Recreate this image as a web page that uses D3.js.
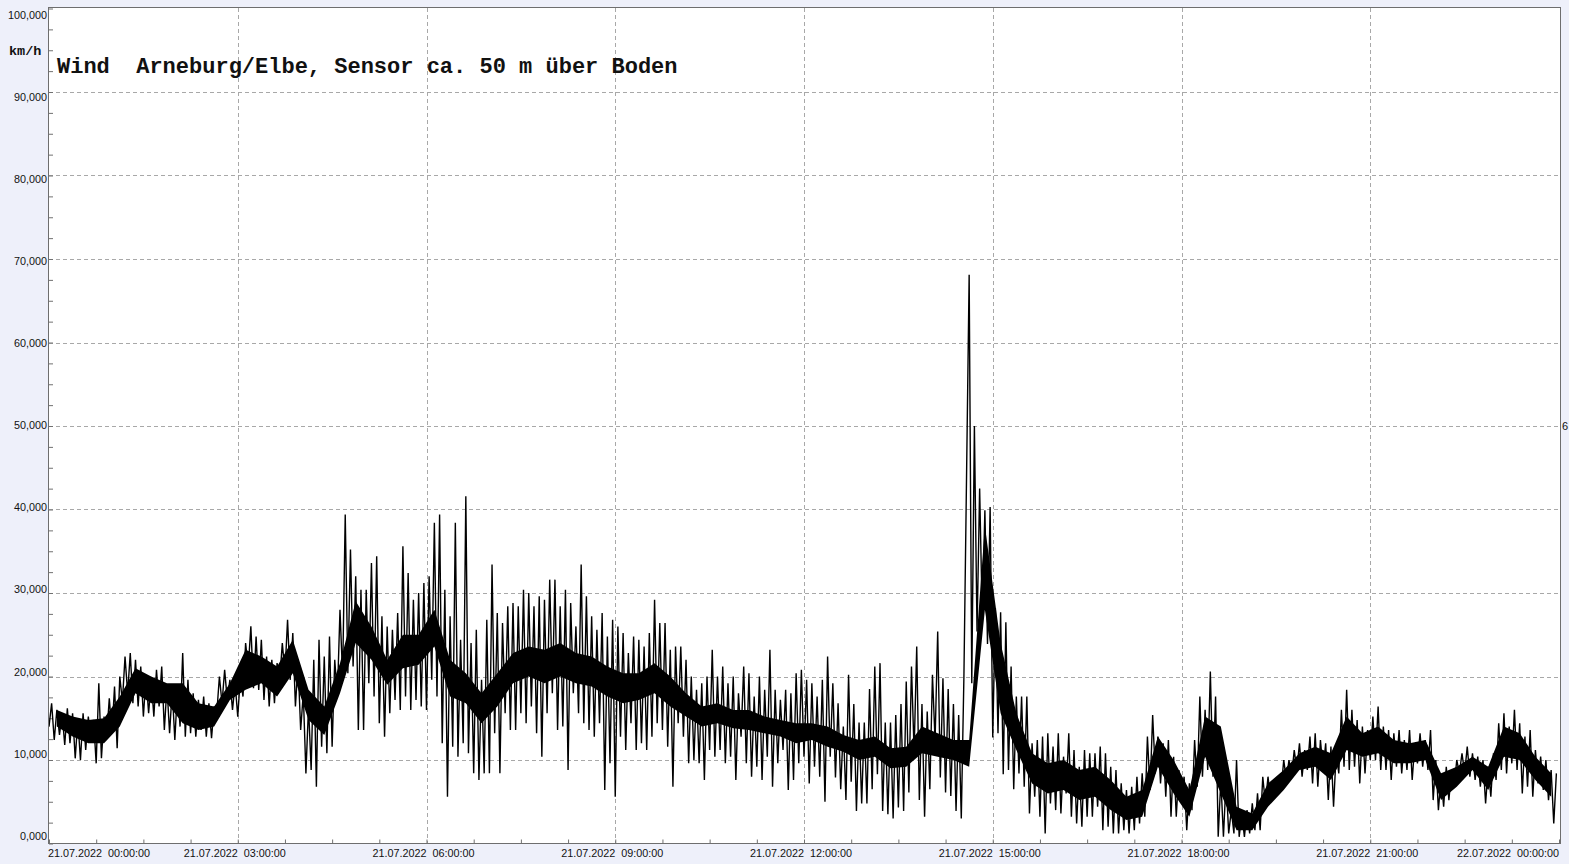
<!DOCTYPE html>
<html>
<head>
<meta charset="utf-8">
<script src="https://cdn.jsdelivr.net/npm/d3@7/dist/d3.min.js"></script>
<style>
  html, body { margin: 0; padding: 0; background: #eef0fa; }
  svg { display: block; }
</style>
</head>
<body>
<svg id="chart" width="1569" height="864"></svg>
<script>
// ---------------- DATA (km/h, 21.07.2022 00:00 - 24:00) ----------------
// 5-minute bins, one row = one hour; windHi = bin maximum, windLo = bin minimum
const windHi = [
  16.8, 16.0, 15.6, 16.2, 15.6, 14.8, 15.6, 15.2, 14.8, 19.2, 15.2, 17.4,
  18.8, 20.0, 22.4, 22.8, 22.0, 21.2, 20.0, 19.6, 20.8, 21.2, 18.8, 18.4,
  18.4, 22.8, 19.6, 18.0, 17.2, 17.6, 16.8, 16.4, 20.0, 20.8, 19.6, 19.2,
  20.0, 24.0, 26.0, 24.8, 24.4, 22.4, 22.0, 21.6, 24.0, 26.8, 25.2, 21.6,
  18.0, 16.4, 22.0, 24.4, 22.4, 24.8, 22.0, 28.0, 39.4, 35.2, 32.0, 30.4,
  30.4, 33.6, 34.4, 27.2, 26.0, 25.6, 27.6, 35.6, 32.4, 29.2, 30.0, 31.2,
  32.0, 38.4, 39.4, 30.4, 27.2, 38.4, 24.4, 41.6, 24.0, 25.6, 19.6, 26.8,
  33.4, 27.6, 26.4, 28.4, 28.8, 28.4, 30.4, 30.0, 28.4, 29.6, 29.2, 31.6,
  31.6, 28.4, 30.4, 28.8, 26.0, 33.4, 29.6, 27.2, 25.6, 27.6, 24.8, 26.8,
  26.0, 25.2, 22.8, 24.8, 24.4, 23.6, 25.2, 29.2, 26.4, 26.4, 23.2, 23.6,
  23.6, 22.0, 20.0, 18.4, 19.2, 20.0, 23.2, 20.0, 21.2, 19.2, 20.0, 18.0,
  21.2, 20.4, 17.6, 20.0, 18.4, 23.2, 18.4, 17.2, 18.4, 18.0, 20.4, 20.8,
  19.6, 19.2, 17.6, 19.6, 22.4, 19.2, 16.8, 14.0, 20.2, 16.7, 14.5, 14.5,
  18.5, 21.2, 21.6, 14.5, 14.5, 15.4, 16.7, 19.4, 21.2, 23.6, 16.7, 15.8,
  20.2, 25.4, 19.8, 18.5, 16.7, 15.4, 20.0, 68.1, 50.0, 42.5, 39.9, 40.3,
  28.2, 27.7, 26.5, 21.2, 17.6, 17.6, 17.6, 12.0, 12.4, 12.8, 13.2, 11.6,
  13.2, 10.4, 13.2, 11.2,  9.2, 11.2, 10.8, 10.8, 11.6, 10.8,  9.2,  8.8,
   7.2,  6.4,  6.8,  8.0,  8.4, 12.8, 15.4, 12.8, 12.0, 12.4, 10.4,  8.8,
   8.0,  7.2, 12.4, 17.6, 16.0, 20.6, 17.6,  7.6,  7.6,  4.0, 10.0,  3.6,
   4.0,  4.8,  6.0,  8.0,  8.0,  7.6,  8.0, 10.0, 10.0, 11.2, 12.0, 11.2,
  12.8, 13.2, 12.4, 12.0, 11.6, 10.8, 16.0, 18.4, 16.0, 14.8, 14.0, 13.6,
  15.2, 16.4, 14.0, 13.6, 13.2, 13.6, 12.4, 13.6, 12.0, 13.2, 12.4, 13.6,
  10.0,  8.0,  9.2,  8.8, 10.0, 10.8, 11.6, 10.8, 10.4, 10.0,  9.2, 10.8,
  14.4, 15.6, 14.0, 16.0, 14.4, 12.8, 13.6, 11.2, 10.4, 10.0,  8.8,  8.4
];
const windLo = [
  14.0, 12.4, 13.0, 11.8, 12.0, 10.2, 10.0, 11.2, 12.2,  9.6, 10.2, 12.8,
  13.2, 11.4, 17.0, 18.0, 16.8, 16.4, 15.2, 15.6, 15.2, 16.4, 13.6, 13.2,
  12.4, 14.0, 12.8, 13.2, 12.8, 13.6, 12.8, 12.6, 15.6, 16.8, 17.2, 16.0,
  15.2, 17.6, 21.0, 18.6, 18.4, 17.2, 16.4, 16.8, 19.6, 20.4, 19.6, 16.4,
  13.6,  8.4,  8.8,  6.8, 11.6, 10.8, 11.6, 17.6, 20.0, 20.4, 21.2, 13.6,
  13.6, 19.2, 17.6, 14.4, 12.8, 15.6, 17.2, 16.0, 17.6, 16.0, 17.2, 16.4,
  16.0, 19.6, 17.6, 12.0,  5.6, 11.6, 10.4, 12.0, 10.8,  8.4,  7.6,  8.4,
   8.4, 13.2,  8.4, 15.6, 13.6, 13.6, 15.6, 14.4, 16.4, 13.2, 10.4, 15.6,
  18.0, 13.6, 14.0,  8.8, 18.0, 15.6, 14.4, 13.6, 12.8, 14.4,  6.4,  9.6,
   5.6, 12.8, 11.2, 14.4, 11.2, 12.0, 11.2, 12.8, 14.4, 13.6, 11.6,  6.8,
  14.4, 12.8,  9.6, 10.0,  9.6,  7.6, 11.2, 10.4, 11.2,  9.6, 10.4,  7.6,
  12.8,  9.6,  8.0,  9.2,  7.6, 10.4,  6.8,  9.6, 11.2,  6.4,  7.6,  9.6,
  10.4,  7.2,  9.2,  8.0,  5.0, 10.4,  7.9,  6.5,  5.2,  7.4,  3.9,  4.8,
   4.8,  6.5,  8.3,  3.9,  3.5,  3.0,  4.3,  3.9,  6.1, 11.0,  5.2,  3.2,
   6.5, 12.3,  7.9,  6.1,  5.7,  3.9,  3.0, 43.9, 19.2, 25.4, 27.1, 23.9,
  12.7, 13.2,  8.3,  8.8,  6.5,  8.4,  6.8,  3.6,  5.6,  3.2,  1.2,  4.8,
   4.0,  3.6,  6.0,  3.2,  2.4,  2.0,  3.2,  3.2,  4.4,  1.6,  2.0,  1.2,
   1.2,  1.6,  1.2,  1.6,  2.4,  3.2,  6.4,  8.4,  7.2,  5.6,  3.2,  3.2,
   5.6,  1.6,  4.0,  6.8,  8.0,  8.8,  8.0,  0.8,  0.8,  1.2,  1.2,  0.8,
   0.8,  1.2,  1.6,  1.6,  4.8,  5.2,  5.6,  6.4,  7.6,  8.0,  8.8,  8.0,
   8.8,  7.2,  6.8,  8.8,  5.2,  4.4,  8.4,  9.2,  8.8,  9.2,  7.2,  8.4,
  10.0, 10.0,  8.8,  8.8,  7.6,  9.2,  8.4,  8.8,  7.6,  9.6,  9.2,  8.8,
   5.2,  4.0,  4.4,  5.2,  6.8,  8.4,  8.4,  8.0,  7.6,  6.8,  4.8,  5.6,
   7.6,  8.8,  8.4,  9.6,  8.8,  6.0,  6.8,  5.6,  7.2,  6.4,  5.2,  2.4
];
const binMinutes = 5;

// 15-minute bins: the dense (solid black) core of the trace, one row = one hour
const coreLo = [
  14.0, 12.8, 12.0, 12.0,   14.0, 18.0, 16.8, 16.8,   14.4, 13.6, 14.0, 17.2,
  18.4, 19.2, 17.6, 20.4,   14.8, 13.0, 18.0, 24.0,   22.0, 19.0, 21.0, 21.4,
  23.6, 17.6, 16.8, 14.4,   16.4, 19.2, 20.0, 19.2,   20.0, 19.2, 18.8, 17.6,
  16.8, 17.2, 18.0, 16.4,   15.2, 14.0, 14.4, 13.8,   13.6, 13.2, 12.8, 12.0,
  12.4, 11.6, 11.0, 10.0,   10.4,  9.0,  9.2, 10.8,   10.4, 10.0,  9.2, 28.0,
  15.6, 11.2,  7.2,  6.0,    6.4,  5.2,  5.6,  4.0,    2.8,  3.2,  9.2,  6.0,
   3.2, 10.4,  6.0,  1.6,    1.6,  4.4,  6.4,  8.8,    9.2,  7.6, 11.2, 10.4,
  10.8,  9.6,  9.6, 10.0,    5.2,  6.8,  8.8,  6.4,   10.4, 10.0,  7.6,  5.6
];
const coreHi = [
  16.0, 15.2, 14.8, 15.0,   17.6, 21.0, 20.0, 19.2,   19.2, 16.8, 16.4, 19.2,
  23.2, 22.4, 21.2, 24.4,   18.4, 16.4, 21.6, 29.0,   26.0, 22.0, 25.0, 25.0,
  28.0, 22.0, 20.4, 18.0,   20.4, 22.8, 23.6, 23.2,   24.0, 22.8, 22.4, 21.2,
  20.4, 20.4, 21.6, 20.0,   18.0, 16.4, 16.8, 16.0,   16.0, 15.2, 14.8, 14.4,
  14.4, 14.0, 13.0, 12.4,   12.8, 11.4, 11.6, 14.0,   13.2, 12.4, 12.4, 38.0,
  24.0, 15.6, 10.8,  9.6,   10.0,  8.8,  9.2,  7.6,    5.6,  6.4, 12.8, 10.0,
   6.4, 15.2, 14.0,  4.4,    3.6,  7.2,  8.8, 10.8,   11.6, 10.8, 15.2, 13.2,
  14.0, 12.4, 12.0, 12.4,    8.4,  9.2, 10.4,  9.2,   14.0, 13.2, 10.4,  8.4
];
const coreMinutes = 15;

const yTickValues = [0, 10, 20, 30, 40, 50, 60, 70, 80, 90, 100];
const yTickLabels = ["0,000", "10,000", "20,000", "30,000", "40,000", "50,000",
                     "60,000", "70,000", "80,000", "90,000", "100,000"];
const xTickMinutes = [0, 180, 360, 540, 720, 900, 1080, 1260, 1440];
const xTickLabels = ["21.07.2022  00:00:00", "21.07.2022  03:00:00", "21.07.2022  06:00:00",
                     "21.07.2022  09:00:00", "21.07.2022  12:00:00", "21.07.2022  15:00:00",
                     "21.07.2022  18:00:00", "21.07.2022  21:00:00", "22.07.2022  00:00:00"];
const titleText = "Wind  Arneburg/Elbe, Sensor ca. 50 m über Boden";
const unitText = "km/h";
const sideText = "6";

// ---------------- LAYOUT ----------------
const L = 49, R = 1560, T = 8, B = 843.5;
const svg = d3.select("#chart");
const x = d3.scaleLinear().domain([0, 1440]).range([L, R - 1]);
const y = d3.scaleLinear().domain([0, 100]).range([B, T + 0.5]);
const yLab = d3.scaleLinear().domain([0, 100]).range([836, 15]);

svg.append("rect").attr("width", 1569).attr("height", 864).attr("fill", "#eef0fa");
svg.append("rect").attr("x", L).attr("y", T).attr("width", R - L).attr("height", B - T)
   .attr("fill", "#ffffff");

// grid
const grid = svg.append("g").attr("stroke", "#a8a8a8").attr("stroke-width", 1)
  .attr("stroke-dasharray", "4,3").attr("shape-rendering", "crispEdges");
grid.selectAll("line.h").data(yTickValues.filter(v => v > 0 && v < 100)).join("line")
  .attr("x1", L).attr("x2", R).attr("y1", d => Math.round(y(d)) + 0.5).attr("y2", d => Math.round(y(d)) + 0.5);
grid.selectAll("line.v").data(xTickMinutes.filter(m => m > 0 && m < 1440)).join("line")
  .attr("y1", T).attr("y2", B).attr("x1", d => Math.round(x(d)) + 0.5).attr("x2", d => Math.round(x(d)) + 0.5);

// minor ticks
const yMinor = d3.axisLeft(y).tickValues(d3.range(0, 100.01, 2.5)).tickSize(-4).tickFormat("");
const gy = svg.append("g").attr("transform", `translate(${L},0)`).call(yMinor);
gy.select(".domain").remove();
gy.selectAll("line").attr("stroke", "#707070");
const xMinor = d3.axisBottom(x).tickValues(d3.range(0, 1440.1, 45)).tickSize(-4).tickFormat("");
const gx = svg.append("g").attr("transform", `translate(0,${B})`).call(xMinor);
gx.select(".domain").remove();
gx.selectAll("line").attr("stroke", "#707070");

// dense core of the trace
const core = coreLo.map((lo, i) => ({ t: i * coreMinutes + coreMinutes / 2, lo: lo, hi: coreHi[i] }));
const area = d3.area().x(d => x(d.t)).y0(d => y(d.lo)).y1(d => y(d.hi)).curve(d3.curveLinear);
svg.append("path").datum(core).attr("d", area).attr("fill", "#000");

// data line
const pts = [];
windHi.forEach((hi, i) => {
  const t = i * binMinutes;
  pts.push({ t: t, v: windLo[i] });
  pts.push({ t: t + binMinutes / 2, v: hi });
});
const line = d3.line().x(d => x(d.t)).y(d => y(d.v));
svg.append("path").datum(pts).attr("d", line)
  .attr("fill", "none").attr("stroke", "#000").attr("stroke-width", 1.4)
  .attr("stroke-linejoin", "miter");

// frame
svg.append("rect").attr("x", L - 0.5).attr("y", T - 0.5).attr("width", R - L + 1).attr("height", B - T + 0.5)
  .attr("fill", "none").attr("stroke", "#6e6e6e").attr("stroke-width", 1);

// y labels
svg.append("g").selectAll("text").data(yTickValues).join("text")
  .attr("x", 47).attr("y", d => yLab(d)).attr("dy", "0.35em")
  .attr("text-anchor", "end")
  .attr("font-family", "'Liberation Sans', Arial, sans-serif").attr("font-size", 10.8)
  .attr("fill", "#111")
  .text((d, i) => yTickLabels[i]);

// x labels
svg.append("g").selectAll("text").data(xTickMinutes).join("text")
  .attr("x", (d, i) => i === 0 ? L - 1 : (i === xTickMinutes.length - 1 ? R - 1 : x(d) - 3))
  .attr("y", 857)
  .attr("text-anchor", (d, i) => i === 0 ? "start" : (i === xTickMinutes.length - 1 ? "end" : "middle"))
  .attr("font-family", "'Liberation Sans', Arial, sans-serif").attr("font-size", 10.8)
  .attr("fill", "#111")
  .style("white-space", "pre")
  .text((d, i) => xTickLabels[i]);

// unit, title, side label
svg.append("text").attr("x", 9).attr("y", 55)
  .attr("font-family", "'Liberation Mono', 'Courier New', monospace").attr("font-weight", "bold")
  .attr("font-size", 13.5).attr("fill", "#111").text(unitText);
svg.append("text").attr("x", 57).attr("y", 73)
  .attr("font-family", "'Liberation Mono', 'Courier New', monospace").attr("font-weight", "bold")
  .attr("font-size", 22).attr("fill", "#111").style("white-space", "pre").text(titleText);
svg.append("text").attr("x", 1562).attr("y", 430)
  .attr("font-family", "'Liberation Sans', Arial, sans-serif").attr("font-size", 11)
  .attr("fill", "#111").text(sideText);
</script>
</body>
</html>
